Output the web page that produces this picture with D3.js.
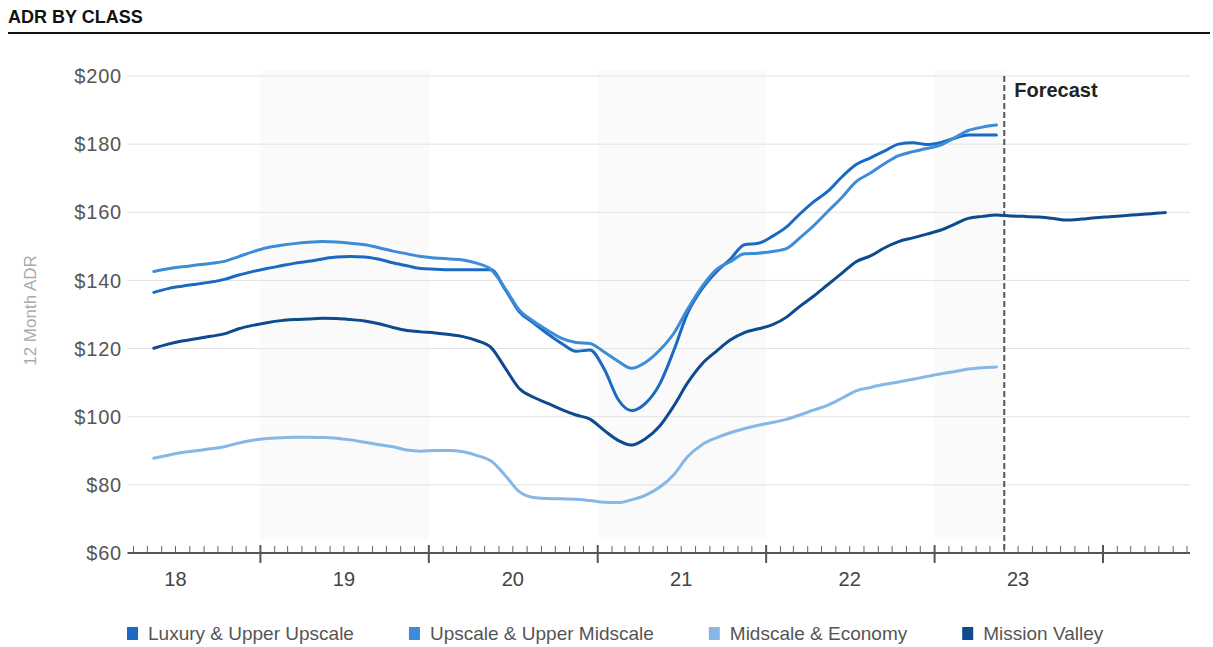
<!DOCTYPE html>
<html>
<head>
<meta charset="utf-8">
<script src="https://cdn.jsdelivr.net/npm/d3@7"></script>
<style>
  html, body { margin: 0; padding: 0; background: #fff; }
  svg { display: block; font-family: "Liberation Sans", Arial, sans-serif; }
</style>
</head>
<body>
<svg id="chart" width="1213" height="647"></svg>
<script>
// Monthly 12-month ADR, May 2018 – May 2023 (actuals), Mission Valley forecast to May 2024
const firstMonth = new Date(2018, 4, 15);
const forecastStart = new Date(2023, 5, 1);

const luxury = [136.5, 137.6, 138.3, 138.9, 139.5, 140.3, 141.6, 142.6, 143.5, 144.3,
  145.0, 145.6, 146.3, 146.9, 147.0, 146.9, 146.2, 145.2, 144.3, 143.5,
  143.3, 143.1, 143.1, 143.1, 143.1, 137.2, 130.8, 127.5, 124.3, 121.5,
  119.2, 119.6, 114.0, 104.9, 101.8, 104.0, 109.5, 119.5, 130.5, 137.5,
  142.5, 146.2, 150.5, 150.9, 153.0, 155.8, 159.5, 163.2, 166.2, 170.5,
  174.0, 176.0, 178.0, 180.0, 180.4, 179.9, 180.5, 181.8, 182.7, 182.7, 182.7];

const upscale = [142.6, 143.4, 144.0, 144.5, 145.0, 145.6, 147.0, 148.4, 149.6, 150.3,
  150.8, 151.2, 151.4, 151.3, 150.9, 150.5, 149.6, 148.6, 147.8, 147.0,
  146.6, 146.3, 146.0, 145.0, 143.2, 137.5, 131.3, 128.0, 125.3, 123.0,
  121.8, 121.5, 119.0, 116.2, 114.2, 116.0, 119.5, 124.5, 131.6, 138.2,
  143.2, 145.5, 147.8, 148.0, 148.5, 149.4, 152.5, 156.2, 160.3, 164.5,
  169.0, 171.5, 174.3, 176.6, 177.8, 178.7, 179.8, 182.0, 184.0, 185.0, 185.6];

const midscale = [87.8, 88.7, 89.5, 90.0, 90.6, 91.2, 92.3, 93.1, 93.6, 93.8,
  94.0, 94.0, 93.9, 93.7, 93.2, 92.5, 91.8, 91.2, 90.2, 89.9,
  90.1, 90.1, 89.7, 88.6, 87.0, 82.7, 78.0, 76.3, 76.0, 75.9,
  75.8, 75.4, 74.9, 74.8, 75.6, 77.0, 79.3, 83.0, 88.3, 91.8,
  93.8, 95.3, 96.5, 97.5, 98.3, 99.3, 100.5, 102.0, 103.4, 105.5,
  107.6, 108.6, 109.5, 110.2, 111.0, 111.8, 112.6, 113.3, 114.0, 114.4, 114.6];

const missionValley = [120.1, 121.3, 122.2, 122.9, 123.6, 124.3, 125.8, 126.8, 127.6, 128.2,
  128.5, 128.7, 128.9, 128.8, 128.5, 128.1, 127.3, 126.2, 125.3, 124.9,
  124.6, 124.1, 123.5, 122.3, 120.3, 114.2, 108.3, 105.7, 103.9, 102.1,
  100.5, 99.3, 96.0, 93.0, 91.7, 93.6, 97.2, 103.2, 110.0, 115.5,
  119.2, 122.5, 124.7, 125.8, 127.0, 129.3, 132.4, 135.5, 138.8, 142.2,
  145.5, 147.2, 149.6, 151.4, 152.5, 153.6, 154.8, 156.6, 158.2, 158.8, 159.2,
  // forecast
  158.9, 158.8, 158.6, 158.2, 157.7, 158.0, 158.4, 158.7, 159.0, 159.3, 159.6, 159.9];

const seriesNames = ["Luxury & Upper Upscale", "Upscale & Upper Midscale", "Midscale & Economy", "Mission Valley"];
const seriesValues = [luxury, upscale, midscale, missionValley];
const seriesColors = ["#1a69c2", "#3d8cd8", "#86b7e6", "#0d4a8e"];

const yTicks = [60, 80, 100, 120, 140, 160, 180, 200];
const yearLabels = ["18", "19", "20", "21", "22", "23"];

const svg = d3.select("#chart");
const plot = { left: 133.5, right: 1187, top: 76, bottom: 553 };

const x = d3.scaleTime()
  .domain([new Date(2018, 3, 1), new Date(2024, 6, 1)])
  .range([plot.left, plot.right]);
const y = d3.scaleLinear().domain([60, 200]).range([plot.bottom, plot.top]);

const monthDate = i => d3.timeMonth.offset(firstMonth, i);

// Title and rule
svg.append("text")
  .attr("x", 8).attr("y", 23)
  .attr("font-size", 18).attr("font-weight", "bold")
  .attr("fill", "#111")
  .text("ADR BY CLASS");
svg.append("line")
  .attr("x1", 8).attr("x2", 1210).attr("y1", 33).attr("y2", 33)
  .attr("stroke", "#111").attr("stroke-width", 2);

// Alternating year shading (odd years), stopping at the forecast boundary
const shadeYears = [2019, 2021, 2023];
svg.append("g").selectAll("rect")
  .data(shadeYears)
  .join("rect")
  .attr("x", d => x(new Date(d, 0, 1)))
  .attr("y", plot.top - 6)
  .attr("width", d => {
    const end = d3.min([new Date(d + 1, 0, 1), forecastStart]);
    return x(end) - x(new Date(d, 0, 1));
  })
  .attr("height", plot.bottom - plot.top - 8)
  .attr("fill", "#fafafa");

// Horizontal gridlines
svg.append("g").selectAll("line")
  .data(yTicks.filter(v => v > 60))
  .join("line")
  .attr("x1", plot.left - 6).attr("x2", plot.right + 3)
  .attr("y1", d => y(d)).attr("y2", d => y(d))
  .attr("stroke", "#e2e2e2").attr("stroke-width", 1);

// Y axis labels
svg.append("g").selectAll("text")
  .data(yTicks)
  .join("text")
  .attr("x", 122).attr("y", d => y(d))
  .attr("dy", "0.36em")
  .attr("text-anchor", "end")
  .attr("font-size", 20)
  .attr("letter-spacing", 0.8)
  .attr("fill", "#555")
  .text(d => "$" + d);

// Y axis title
svg.append("text")
  .attr("transform", `translate(36, ${(plot.top + plot.bottom) / 2 - 4}) rotate(-90)`)
  .attr("text-anchor", "middle")
  .attr("font-size", 17)
  .attr("fill", "#aaa")
  .text("12 Month ADR");

// X axis: monthly minor ticks above the line, yearly major ticks across it
const xAxisG = svg.append("g");
xAxisG.append("line")
  .attr("x1", plot.left - 6).attr("x2", plot.right + 3)
  .attr("y1", plot.bottom).attr("y2", plot.bottom)
  .attr("stroke", "#555").attr("stroke-width", 2);

const months = d3.timeMonth.range(new Date(2018, 3, 1), new Date(2024, 6, 2));
xAxisG.selectAll("line.minor")
  .data(months.filter(d => d.getMonth() !== 0))
  .join("line")
  .attr("class", "minor")
  .attr("x1", d => x(d)).attr("x2", d => x(d))
  .attr("y1", plot.bottom - 7).attr("y2", plot.bottom)
  .attr("stroke", "#666").attr("stroke-width", 1);

const years = d3.timeYear.range(new Date(2019, 0, 1), new Date(2024, 0, 2));
xAxisG.selectAll("line.major")
  .data(years)
  .join("line")
  .attr("class", "major")
  .attr("x1", d => x(d)).attr("x2", d => x(d))
  .attr("y1", plot.bottom - 8).attr("y2", plot.bottom + 10)
  .attr("stroke", "#555").attr("stroke-width", 2);

xAxisG.selectAll("text")
  .data(yearLabels)
  .join("text")
  .attr("x", d => x(new Date(2000 + +d, 6, 1)))
  .attr("y", 586)
  .attr("text-anchor", "middle")
  .attr("font-size", 20)
  .attr("fill", "#444")
  .text(d => d);

// Forecast boundary
svg.append("line")
  .attr("x1", x(forecastStart)).attr("x2", x(forecastStart))
  .attr("y1", plot.top).attr("y2", plot.bottom)
  .attr("stroke", "#555").attr("stroke-width", 2)
  .attr("stroke-dasharray", "6,3");
svg.append("text")
  .attr("x", x(forecastStart) + 10).attr("y", 97)
  .attr("font-size", 20).attr("font-weight", "bold")
  .attr("fill", "#222")
  .text("Forecast");

// Series lines
const line = d3.line()
  .x((d, i) => x(monthDate(i)))
  .y(d => y(d))
  .curve(d3.curveMonotoneX);

const drawOrder = [2, 3, 0, 1];
svg.append("g").selectAll("path")
  .data(drawOrder)
  .join("path")
  .attr("d", k => line(seriesValues[k]))
  .attr("fill", "none")
  .attr("stroke", k => seriesColors[k])
  .attr("stroke-width", 3)
  .attr("stroke-linejoin", "round")
  .attr("stroke-linecap", "round");

// Legend
const legend = svg.append("g");
let lx = 127;
seriesNames.forEach((name, i) => {
  legend.append("rect")
    .attr("x", lx).attr("y", 627)
    .attr("width", 11).attr("height", 13)
    .attr("fill", seriesColors[i]);
  const t = legend.append("text")
    .attr("x", lx + 21).attr("y", 640)
    .attr("font-size", 19)
    .attr("fill", "#555")
    .text(name);
  lx += 21 + t.node().getComputedTextLength() + 55;
});
</script>
</body>
</html>
